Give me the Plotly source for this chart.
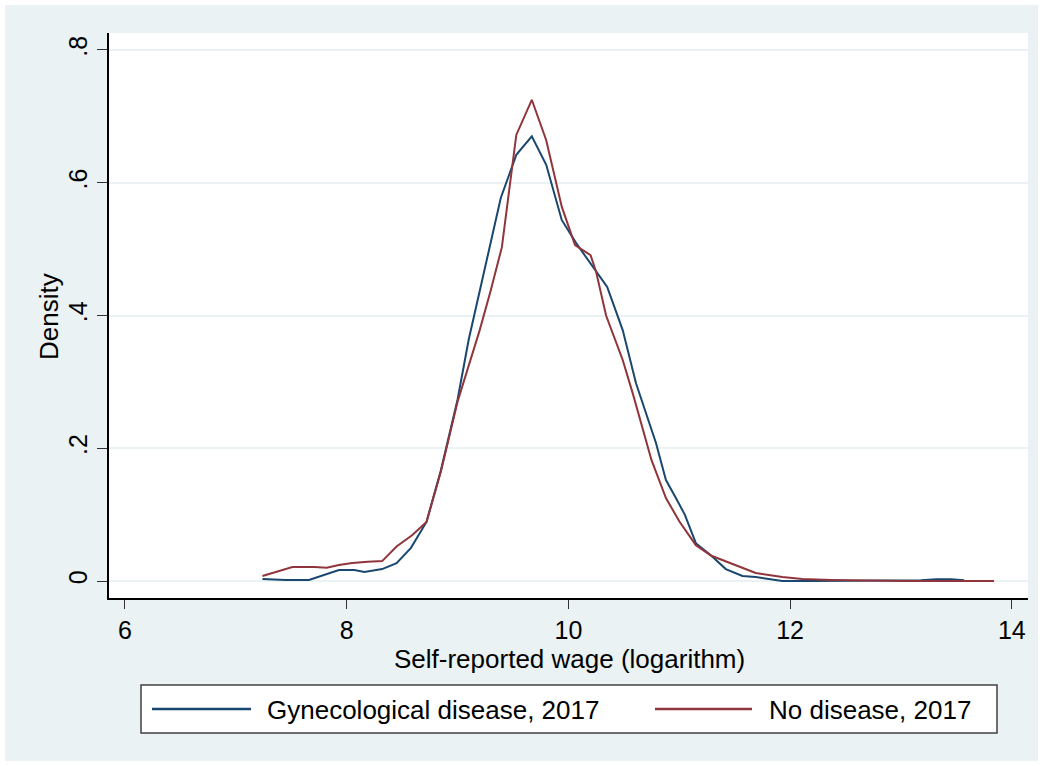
import plotly.graph_objects as go

# Gynecological disease, 2017 (kernel density)
gyn_x = [7.24, 7.45, 7.66, 7.80, 7.93, 8.07, 8.16, 8.32, 8.45, 8.58, 8.72, 8.85, 9.00, 9.10,
         9.22, 9.39, 9.53, 9.67, 9.80, 9.94, 10.07, 10.25, 10.35, 10.49, 10.61, 10.79, 10.88,
         10.97, 11.05, 11.15, 11.29, 11.42, 11.57, 11.69, 11.93, 12.20, 12.60, 13.00, 13.18,
         13.32, 13.45, 13.57]
gyn_y = [0.003, 0.0015, 0.0015, 0.009, 0.0166, 0.0166, 0.0136, 0.018, 0.027, 0.050, 0.089,
         0.167, 0.273, 0.363, 0.453, 0.577, 0.642, 0.670, 0.627, 0.544, 0.509, 0.466, 0.443,
         0.378, 0.298, 0.208, 0.152, 0.125, 0.100, 0.057, 0.038, 0.018, 0.0075, 0.006, 0.0,
         0.0, 0.0, 0.0, 0.001, 0.0025, 0.0025, 0.001]

# No disease, 2017 (kernel density)
no_x = [7.24, 7.51, 7.71, 7.82, 7.93, 8.05, 8.19, 8.32, 8.45, 8.59, 8.72, 8.85, 9.00, 9.20,
        9.30, 9.40, 9.53, 9.67, 9.80, 9.94, 10.06, 10.20, 10.25, 10.34, 10.49, 10.58, 10.75,
        10.88, 11.00, 11.15, 11.29, 11.51, 11.69, 11.93, 12.11, 12.37, 13.00, 13.84]
no_y = [0.0075, 0.021, 0.021, 0.020, 0.024, 0.027, 0.029, 0.030, 0.052, 0.069, 0.089, 0.165,
        0.270, 0.378, 0.438, 0.503, 0.672, 0.725, 0.664, 0.564, 0.506, 0.491, 0.466, 0.400,
        0.333, 0.283, 0.182, 0.125, 0.090, 0.054, 0.038, 0.024, 0.012, 0.006, 0.003, 0.0015,
        0.0, 0.0]

series_names = ["Gynecological disease, 2017", "No disease, 2017"]
x_ticks = [6, 8, 10, 12, 14]
y_ticks = [0, 0.2, 0.4, 0.6, 0.8]
y_ticktext = ["0", ".2", ".4", ".6", ".8"]

BLUE = "#1A476F"
RED = "#90353B"
BG = "#EAF2F3"
FONT = "Liberation Sans, Arial, sans-serif"
FS = 26
TFS = 25

W, H = 1043, 766
L, R, T, B = 109, 15, 33, 168
pw, ph = W - L - R, H - T - B

def px(xp):
    return (xp - L) / pw

def py(yp):
    return (H - B - yp) / ph

fig = go.Figure()
fig.add_trace(go.Scatter(x=gyn_x, y=gyn_y, mode="lines", name=series_names[0],
                         line=dict(color=BLUE, width=2), showlegend=False))
fig.add_trace(go.Scatter(x=no_x, y=no_y, mode="lines", name=series_names[1],
                         line=dict(color=RED, width=2), showlegend=False))

shapes = [
    # white outer frame
    dict(type="rect", xref="paper", yref="paper", x0=px(0), x1=px(W), y0=py(H), y1=py(0),
         line=dict(color="white", width=10), fillcolor="rgba(0,0,0,0)", layer="above"),
    # legend box
    dict(type="rect", xref="paper", yref="paper", x0=px(141), x1=px(997), y0=py(733), y1=py(685),
         line=dict(color="#404040", width=1.5), fillcolor="white", layer="above"),
    dict(type="line", xref="paper", yref="paper", x0=px(152), x1=px(251), y0=py(709), y1=py(709),
         line=dict(color=BLUE, width=2.5), layer="above"),
    dict(type="line", xref="paper", yref="paper", x0=px(655), x1=px(752), y0=py(709), y1=py(709),
         line=dict(color=RED, width=2.5), layer="above"),
]

annotations = [
    dict(text=series_names[0], xref="paper", yref="paper", x=px(265), y=py(710),
         xanchor="left", yanchor="middle", showarrow=False, font=dict(size=FS, color="black", family=FONT)),
    dict(text=series_names[1], xref="paper", yref="paper", x=px(767), y=py(710),
         xanchor="left", yanchor="middle", showarrow=False, font=dict(size=FS, color="black", family=FONT)),
    dict(text="Self-reported wage (logarithm)", xref="paper", yref="paper", x=px(569), y=py(659),
         xanchor="center", yanchor="middle", showarrow=False, font=dict(size=FS, color="black", family=FONT)),
    dict(text="Density", xref="paper", yref="paper", x=px(49), y=py(316), textangle=-90,
         xanchor="center", yanchor="middle", showarrow=False, font=dict(size=FS, color="black", family=FONT)),
]

fig.update_layout(
    width=W, height=H,
    margin=dict(l=L, r=R, t=T, b=B, autoexpand=False),
    paper_bgcolor=BG, plot_bgcolor="white",
    font=dict(family=FONT, size=TFS, color="black"),
    shapes=shapes, annotations=annotations,
    xaxis=dict(range=[5.856, 14.146], tickvals=x_ticks, ticks="outside", ticklen=9,
               tickcolor="#333333", tickwidth=1, showgrid=False, zeroline=False,
               showline=True, linecolor="black", linewidth=1.5, ticklabelstandoff=0,
               tickfont=dict(size=TFS, family=FONT)),
    yaxis=dict(range=[-0.0256, 0.8256], tickvals=y_ticks, ticktext=y_ticktext, tickangle=-90,
               ticks="outside", ticklen=10, tickcolor="#333333", tickwidth=1,
               showgrid=True, gridcolor=BG, gridwidth=2, zeroline=False,
               showline=True, linecolor="black", linewidth=1.5, ticklabelstandoff=0,
               tickfont=dict(size=TFS, family=FONT)),
)

fig.write_html("out.html")
